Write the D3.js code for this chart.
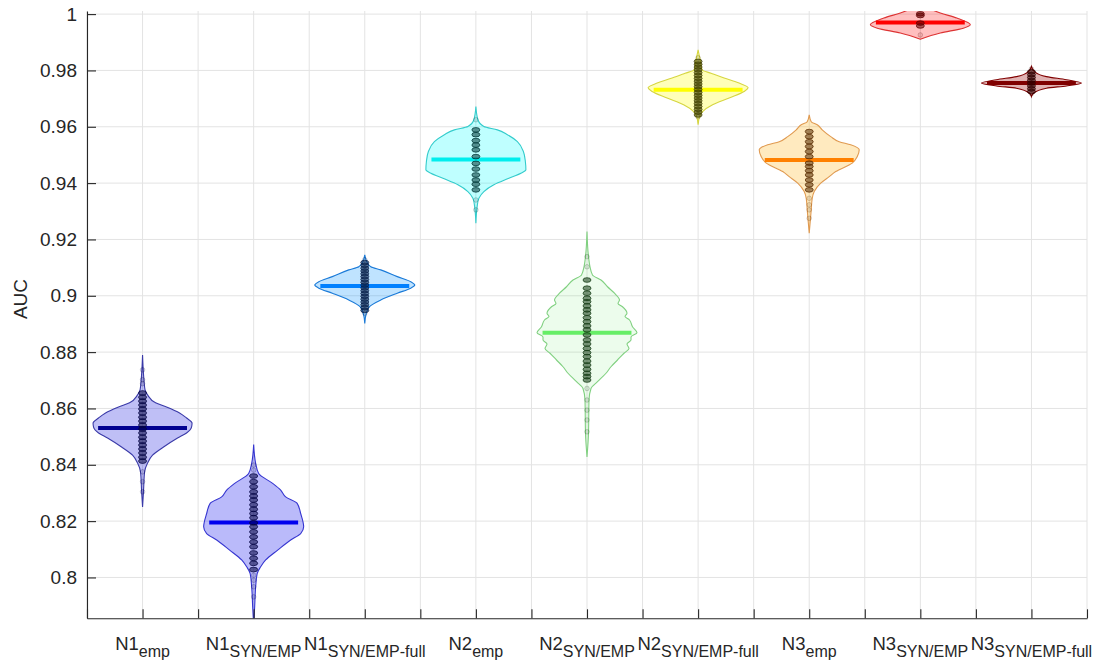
<!DOCTYPE html>
<html>
<head>
<meta charset="utf-8">
<script src="https://cdn.jsdelivr.net/npm/d3@7"></script>
<style>
  body { margin: 0; background: #fff; }
  text { font-family: "Liberation Sans", Arial, Helvetica, sans-serif; fill: #262626; }
</style>
</head>
<body>
<div id="chart"></div>
<script>
// Categories (main label + subscript)
const groupNames = ["N1", "N1", "N1", "N2", "N2", "N2", "N3", "N3", "N3"];
const subNames = ["emp", "SYN/EMP", "SYN/EMP-full", "emp", "SYN/EMP", "SYN/EMP-full", "emp", "SYN/EMP", "SYN/EMP-full"];

// Median AUC per violin
const medians = [0.8531, 0.8195, 0.9035, 0.9484, 0.8869, 0.9731, 0.9482, 0.9970, 0.9755];

// Violin outlines: [AUC, relative density]
const profiles = [
  [[0.8790,0],[0.8719,0.02],[0.8666,0.05],[0.8648,0.10],[0.8620,0.26],[0.8605,0.48],[0.8584,0.74],[0.8566,0.88],[0.8548,0.99],[0.8534,0.98],[0.8513,0.88],[0.8495,0.70],[0.8463,0.42],[0.8434,0.20],[0.8406,0.10],[0.8374,0.04],[0.8310,0.02],[0.8250,0]],
  [[0.8472,0],[0.8405,0.04],[0.8369,0.10],[0.8334,0.38],[0.8310,0.54],[0.8286,0.64],[0.8263,0.87],[0.8227,0.94],[0.8180,1.0],[0.8156,0.94],[0.8133,0.74],[0.8097,0.48],[0.8062,0.24],[0.8038,0.14],[0.8014,0.07],[0.7967,0.04],[0.7896,0.02],[0.7831,0]],
  [[0.9145,0],[0.9121,0.04],[0.9103,0.12],[0.9092,0.32],[0.9068,0.65],[0.9050,0.92],[0.9038,1.0],[0.9027,0.92],[0.9009,0.65],[0.8985,0.32],[0.8961,0.09],[0.8938,0.03],[0.8902,0]],
  [[0.9672,0],[0.9625,0.04],[0.9601,0.16],[0.9589,0.43],[0.9572,0.63],[0.9547,0.83],[0.9512,0.95],[0.9476,0.99],[0.9447,1.0],[0.9435,0.90],[0.9417,0.66],[0.9394,0.36],[0.9370,0.16],[0.9346,0.06],[0.9323,0.03],[0.9258,0]],
  [[0.9228,0],[0.9139,0.03],[0.9103,0.06],[0.9074,0.11],[0.9056,0.28],[0.9032,0.41],[0.9009,0.55],[0.8985,0.65],[0.8973,0.62],[0.8961,0.71],[0.8938,0.80],[0.8926,0.76],[0.8914,0.85],[0.8890,0.91],[0.8869,1.0],[0.8854,0.88],[0.8843,0.88],[0.8829,0.80],[0.8813,0.84],[0.8796,0.74],[0.8772,0.61],[0.8748,0.48],[0.8725,0.38],[0.8695,0.21],[0.8671,0.08],[0.8630,0.04],[0.8512,0.03],[0.8428,0]],
  [[0.9873,0],[0.9838,0.04],[0.9802,0.08],[0.9790,0.26],[0.9773,0.52],[0.9755,0.82],[0.9739,1.0],[0.9725,0.92],[0.9702,0.62],[0.9678,0.29],[0.9654,0.09],[0.9636,0.03],[0.9607,0]],
  [[0.9642,0],[0.9618,0.04],[0.9607,0.16],[0.9589,0.26],[0.9565,0.43],[0.9547,0.60],[0.9536,0.83],[0.9518,1.0],[0.9494,0.96],[0.9471,0.86],[0.9441,0.53],[0.9423,0.40],[0.9400,0.23],[0.9370,0.10],[0.9346,0.06],[0.9305,0.04],[0.9222,0]],
  [[1.0040,0],[1.0018,0.20],[1.0004,0.40],[0.9986,0.73],[0.9962,1.0],[0.9950,0.86],[0.9933,0.40],[0.9911,0]],
  [[0.9814,0],[0.9796,0.06],[0.9778,0.30],[0.9767,0.70],[0.9755,1.0],[0.9745,0.70],[0.9737,0.30],[0.9719,0.04],[0.9707,0]]
];

// Scatter points: dense rows and sparse (faint) points
const denseDots = [
  [0.8655,0.8640,0.8626,0.8612,0.8598,0.8584,0.8569,0.8555,0.8541,0.8527,0.8513,0.8498,0.8484,0.8470,0.8456,0.8442,0.8427,0.8413],
  [0.8360,0.8340,0.8322,0.8304,0.8289,0.8275,0.8258,0.8242,0.8227,0.8212,0.8194,0.8180,0.8162,0.8144,0.8126,0.8109,0.8087,0.8068,0.8050,0.8028],
  [0.9118,0.9108,0.9098,0.9088,0.9078,0.9068,0.9058,0.9048,0.9038,0.9028,0.9018,0.9008,0.8998,0.8988,0.8978,0.8968,0.8958,0.8948],
  [0.9589,0.9572,0.9551,0.9535,0.9518,0.9494,0.9470,0.9450,0.9429,0.9411,0.9396,0.9376],
  [0.9056,0.9027,0.9009,0.8991,0.8979,0.8964,0.8950,0.8938,0.8922,0.8908,0.8893,0.8879,0.8861,0.8843,0.8829,0.8813,0.8798,0.8784,0.8768,0.8754,0.8739,0.8725,0.8713,0.8701],
  [0.9832,0.9822,0.9812,0.9802,0.9792,0.9782,0.9772,0.9762,0.9752,0.9742,0.9732,0.9722,0.9712,0.9702,0.9692,0.9682,0.9672,0.9662,0.9652,0.9642],
  [0.9583,0.9565,0.9547,0.9530,0.9512,0.9494,0.9471,0.9459,0.9444,0.9429,0.9411,0.9394,0.9376],
  [1.0001,0.9995,0.9968,0.9958],
  [0.9795,0.9785,0.9775,0.9765,0.9755,0.9745,0.9735,0.9725]
];
const sparseDots = [
  [0.8737,0.8702,0.8688,0.8375,0.8340,0.8304],
  [0.8399,0.8381,0.8008,0.7990,0.7967,0.7931],
  [0.9128,0.8938],
  [0.9625,0.9340,0.9305],
  [0.9139,0.9103,0.8671,0.8630,0.8594,0.8559,0.8517],
  [0.9845,0.9636],
  [0.9346,0.9323,0.9305,0.9275],
  [0.9926],
  [0.9805,0.9718]
];

const yTicks = [0.8, 0.82, 0.84, 0.86, 0.88, 0.9, 0.92, 0.94, 0.96, 0.98, 1];

// Styles
const fillColors = ["#0000dd", "#0000ee", "#0090ff", "#00ffff", "#40e040", "#ffff00", "#ffaa00", "#ff0000", "#990000"];
const fillOpacity = [0.25, 0.27, 0.25, 0.25, 0.1, 0.28, 0.25, 0.25, 0.3];
const edgeColors = ["#3a3aa8", "#3535d0", "#1a7ad8", "#33cccc", "#80d080", "#d6d640", "#e09a50", "#dd3333", "#800000"];
const medianColors = ["#000090", "#0000ee", "#0080ff", "#00eeee", "#66ee66", "#ffff00", "#ff8000", "#ff0000", "#800000"];
const dotColors = ["#000040", "#000040", "#08204a", "#003838", "#183e18", "#404000", "#5a2c00", "#600000", "#300000"];

const W = 1096, H = 662;
const plot = { left: 87, right: 1087, top: 11, bottom: 618.3 };
const violinHalf = 0.45, medianHalf = 0.4;

const svg = d3.select("#chart").append("svg")
  .attr("width", W).attr("height", H);

const x = d3.scaleLinear().domain([0.5, 9.5]).range([plot.left, plot.right]);
const y = d3.scaleLinear().domain([0.7855, 1.0011]).range([plot.bottom, plot.top]);

const xGrid = d3.range(0.5, 9.51, 0.5);

// Grid
svg.append("g").selectAll("line").data(xGrid).enter().append("line")
  .attr("x1", d => x(d)).attr("x2", d => x(d))
  .attr("y1", plot.top).attr("y2", plot.bottom)
  .attr("stroke", "#e3e3e3").attr("stroke-width", 1);
svg.append("g").selectAll("line").data(yTicks).enter().append("line")
  .attr("x1", plot.left).attr("x2", plot.right)
  .attr("y1", d => y(d)).attr("y2", d => y(d))
  .attr("stroke", "#e3e3e3").attr("stroke-width", 1);

// Clip
svg.append("clipPath").attr("id", "clip").append("rect")
  .attr("x", plot.left).attr("y", plot.top)
  .attr("width", plot.right - plot.left).attr("height", plot.bottom - plot.top);

const g = svg.append("g").attr("clip-path", "url(#clip)");

profiles.forEach((prof, i) => {
  const c = i + 1;
  const area = d3.area()
    .y(d => y(d[0]))
    .x0(d => x(c - d[1] * violinHalf))
    .x1(d => x(c + d[1] * violinHalf))
    .curve(d3.curveMonotoneY);

  g.append("path")
    .datum(prof)
    .attr("d", area)
    .attr("fill", fillColors[i])
    .attr("fill-opacity", fillOpacity[i])
    .attr("stroke", edgeColors[i])
    .attr("stroke-width", 1.1);

  g.append("line")
    .attr("x1", x(c - medianHalf)).attr("x2", x(c + medianHalf))
    .attr("y1", y(medians[i])).attr("y2", y(medians[i]))
    .attr("stroke", medianColors[i])
    .attr("stroke-width", 4);

  g.selectAll(null).data(sparseDots[i]).enter().append("circle")
    .attr("cx", x(c)).attr("cy", d => y(d)).attr("r", 2.3)
    .attr("fill", dotColors[i]).attr("fill-opacity", 0.1)
    .attr("stroke", dotColors[i]).attr("stroke-opacity", 0.25).attr("stroke-width", 0.8);

  g.selectAll(null).data(denseDots[i]).enter().append("ellipse")
    .attr("cx", x(c)).attr("cy", d => y(d)).attr("rx", 4).attr("ry", 2.3)
    .attr("fill", dotColors[i]).attr("fill-opacity", 0.55)
    .attr("stroke", dotColors[i]).attr("stroke-opacity", 0.85).attr("stroke-width", 0.9);
});

// Axes
const yAxis = d3.axisLeft(y).tickValues(yTicks).tickSize(-9).tickSizeOuter(0).tickPadding(10)
  .tickFormat(d => String(+d.toFixed(2)));
const yg = svg.append("g").attr("transform", `translate(${plot.left},0)`).call(yAxis);

const xAxis = d3.axisBottom(x).tickValues(xGrid).tickSize(-9).tickSizeOuter(0).tickFormat("");
const xg = svg.append("g").attr("transform", `translate(0,${plot.bottom})`).call(xAxis);

[yg, xg].forEach(a => {
  a.select(".domain").attr("stroke", "#262626").attr("stroke-width", 1.1);
  a.selectAll(".tick line").attr("stroke", "#262626").attr("stroke-width", 1.1);
});
yg.selectAll(".tick text").attr("font-size", 19).attr("fill", "#262626")
  .style("font-family", '"Liberation Sans", Arial, sans-serif');

// Category labels with subscripts
const labels = svg.append("g").selectAll("text").data(groupNames).enter().append("text")
  .attr("x", (d, i) => x(i + 1)).attr("y", 650)
  .attr("text-anchor", "middle");
labels.append("tspan").attr("font-size", 18.5).text(d => d);
labels.append("tspan").attr("font-size", 16).attr("dy", 7).text((d, i) => subNames[i]);

// Y label
svg.append("text")
  .attr("transform", "translate(27,299) rotate(-90)")
  .attr("text-anchor", "middle")
  .attr("font-size", 19)
  .text("AUC");
</script>
</body>
</html>
